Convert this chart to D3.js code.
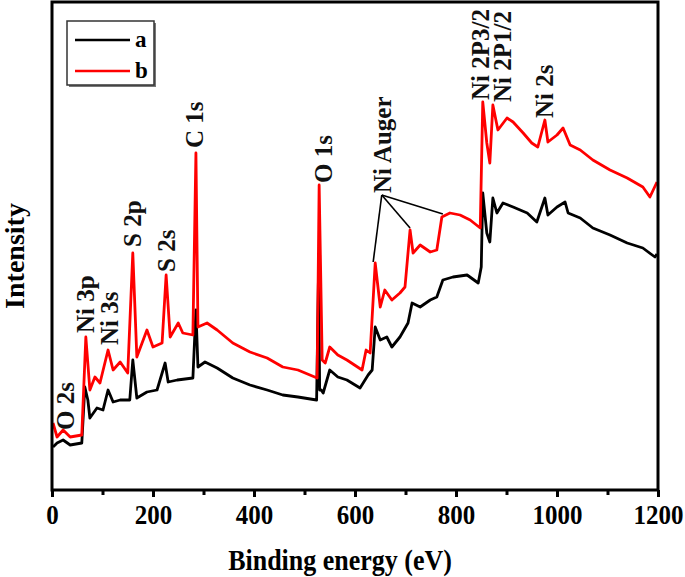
<!DOCTYPE html>
<html>
<head>
<meta charset="utf-8">
<script src="https://cdn.jsdelivr.net/npm/d3@7"></script>
<style>
  body { margin: 0; background: #fff; }
  text { font-family: "Liberation Serif", "Times New Roman", serif; font-weight: bold; }
</style>
</head>
<body>
<div class="chart"></div>
<script>
// XPS survey spectra, [binding energy (eV), intensity (a.u.)]
var seriesA = [
  [2, 43], [10, 47], [22, 50], [36, 45], [59, 47], [65, 103], [71, 90], [75, 72], [89, 82], [101, 80],
  [111, 100], [121, 88], [135, 90], [154, 90], [160, 130], [168, 92], [188, 98], [208, 100], [224, 127],
  [230, 108], [248, 110], [279, 112], [285, 180], [289, 123], [303, 128], [327, 122], [358, 112],
  [392, 105], [426, 100], [457, 95], [487, 93], [524, 90], [528, 225], [530, 100], [533, 100], [537, 97],
  [550, 120], [566, 113], [584, 110], [610, 102], [626, 115], [634, 120], [640, 163], [650, 150],
  [663, 153], [673, 143], [689, 153], [705, 167], [713, 187], [729, 183], [749, 190], [762, 193],
  [774, 210], [794, 213], [822, 215], [844, 207], [850, 223], [853, 297], [861, 257], [867, 248],
  [873, 292], [881, 277], [893, 287], [913, 283], [941, 277], [960, 268], [976, 292], [982, 275],
  [1000, 283], [1016, 288], [1022, 277], [1046, 272], [1071, 262], [1105, 255], [1139, 247],
  [1170, 242], [1194, 233], [1198, 236]
];

var seriesB = [
  [2, 67], [10, 53], [22, 60], [36, 53], [59, 55], [67, 153], [75, 100], [85, 113], [95, 107],
  [111, 140], [121, 120], [135, 128], [150, 117], [160, 237], [168, 133], [188, 160], [200, 143],
  [218, 147], [226, 215], [234, 153], [250, 167], [259, 157], [279, 155], [285, 337], [289, 163],
  [307, 167], [327, 160], [358, 147], [392, 138], [426, 132], [457, 123], [487, 120], [525, 112],
  [529, 305], [535, 130], [541, 127], [550, 143], [566, 135], [584, 130], [614, 120], [622, 140],
  [630, 137], [640, 227], [650, 183], [659, 200], [673, 190], [689, 197], [699, 203], [709, 260],
  [715, 237], [729, 245], [749, 238], [762, 240], [772, 273], [788, 277], [808, 275], [828, 270],
  [848, 262], [853, 388], [861, 347], [867, 327], [873, 385], [883, 360], [901, 372], [913, 368],
  [933, 357], [950, 347], [962, 343], [976, 370], [982, 348], [1000, 355], [1012, 362], [1026, 345],
  [1046, 340], [1071, 330], [1105, 320], [1139, 312], [1170, 303], [1184, 293], [1198, 308]
];

var seriesNames = ["a", "b"];
var seriesColors = ["#000000", "#ff0000"];

// peak labels: text, energy of baseline, intensity where the text starts
var peakLabels = ["O 2s", "Ni 3p", "Ni 3s", "S 2p", "S 2s", "C 1s", "O 1s", "Ni Auger", "Ni 2P3/2", "Ni 2P1/2", "Ni 2s"];
var peakLabelE = [44, 83, 131, 176, 244, 299, 554, 671, 865, 909, 992];
var peakLabelI = [60, 157, 145, 243, 218, 342, 307, 297, 390, 388, 372];

// Ni Auger pointer lines: origin and the three peaks
var augerOrigin = [653, 295];
var augerPeaks = [[636, 228], [709, 262], [774, 276]];

var xTicks = [0, 200, 400, 600, 800, 1000, 1200];
var xMinorTicks = [100, 300, 500, 700, 900, 1100];

var svgWidth = 685;
var svgHeight = 577;
var margin = { top: 2, right: 27, bottom: 87, left: 52 };

var svg = d3.select(".chart")
  .append("svg")
  .attr("width", svgWidth)
  .attr("height", svgHeight);

var xScale = d3.scaleLinear()
  .domain([0, 1200])
  .range([margin.left, svgWidth - margin.right]);

var yScale = d3.scaleLinear()
  .domain([0, 488])
  .range([svgHeight - margin.bottom, margin.top]);

var plotBottom = svgHeight - margin.bottom;

// minor ticks
svg.append("g")
  .attr("transform", `translate(0, ${plotBottom})`)
  .call(d3.axisBottom(xScale).tickValues(xMinorTicks).tickSize(5).tickFormat(""))
  .call(g => g.select(".domain").remove())
  .selectAll("line").attr("stroke-width", 3);

// major ticks + labels
var xAxis = svg.append("g")
  .attr("transform", `translate(0, ${plotBottom})`)
  .call(d3.axisBottom(xScale).tickValues(xTicks).tickSize(7).tickPadding(6).tickFormat(d3.format("d")))
  .call(g => g.select(".domain").remove());

xAxis.selectAll("line").attr("stroke-width", 3);
xAxis.selectAll("text")
  .style("font-size", "25px")
  .style("font-family", "'Liberation Serif', 'Times New Roman', serif")
  .style("font-weight", "bold")
  .attr("fill", "#000")
  .attr("transform", "scale(1,1.12)");

// curves
var line = d3.line()
  .x(d => xScale(d[0]))
  .y(d => yScale(d[1]));

[seriesA, seriesB].forEach(function (s, i) {
  svg.append("path")
    .datum(s)
    .attr("fill", "none")
    .attr("stroke", seriesColors[i])
    .attr("stroke-width", 2.8)
    .attr("stroke-linejoin", "round")
    .attr("d", line);
});

// frame
svg.append("rect")
  .attr("x", xScale(0))
  .attr("y", yScale(488))
  .attr("width", xScale(1200) - xScale(0))
  .attr("height", yScale(0) - yScale(488))
  .attr("fill", "none")
  .attr("stroke", "#000")
  .attr("stroke-width", 3);

// peak labels
peakLabels.forEach(function (t, i) {
  svg.append("text")
    .attr("transform", `translate(${xScale(peakLabelE[i])}, ${yScale(peakLabelI[i])}) rotate(-90)`)
    .style("font-size", "25px")
    .attr("fill", "#111")
    .text(t);
});

// Ni Auger pointers
augerPeaks.forEach(function (p) {
  svg.append("line")
    .attr("x1", xScale(augerOrigin[0]))
    .attr("y1", yScale(augerOrigin[1]))
    .attr("x2", xScale(p[0]))
    .attr("y2", yScale(p[1]))
    .attr("stroke", "#000")
    .attr("stroke-width", 1.6);
});

// legend
var legend = svg.append("g").attr("transform", "translate(67, 21)");
legend.append("rect")
  .attr("x", 2).attr("y", 2)
  .attr("width", 87).attr("height", 64)
  .attr("fill", "#777");
legend.append("rect")
  .attr("width", 87).attr("height", 64)
  .attr("fill", "#fff")
  .attr("stroke", "#333")
  .attr("stroke-width", 1.5);

seriesNames.forEach(function (n, i) {
  legend.append("line")
    .attr("x1", 8).attr("x2", 63)
    .attr("y1", 19 + i * 31).attr("y2", 19 + i * 31)
    .attr("stroke", seriesColors[i])
    .attr("stroke-width", 2.6);
  legend.append("text")
    .attr("x", 68)
    .attr("y", 26 + i * 31)
    .style("font-size", "23px")
    .text(n);
});

// axis titles
svg.append("text")
  .attr("transform", "translate(340, 570) scale(1,1.15)")
  .style("font-size", "26px")
  .style("text-anchor", "middle")
  .text("Binding energy (eV)");

svg.append("text")
  .attr("transform", "translate(24, 256) rotate(-90)")
  .style("font-size", "28px")
  .style("text-anchor", "middle")
  .text("Intensity");
</script>
</body>
</html>
